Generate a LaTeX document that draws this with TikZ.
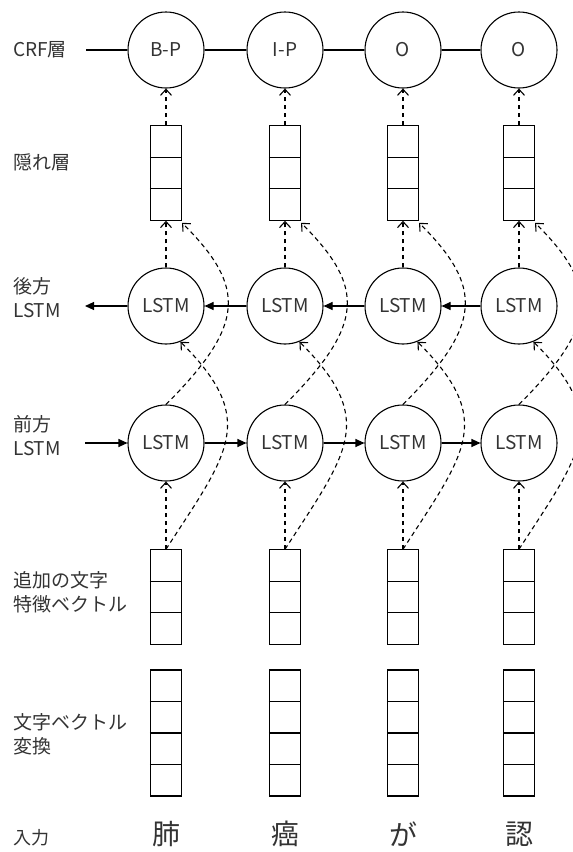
\documentclass[tikz,border=0pt]{standalone}
\usepackage{fontspec}
\setmainfont{Noto Sans CJK JP}
\usetikzlibrary{arrows.meta,calc}
\begin{document}
\begin{tikzpicture}[x=1pt,y=-1pt,
  txt/.style={text=black!80, font=\fontsize{19}{24}\selectfont},
  lw/.style={line width=1.1pt},
  circ/.style={circle, draw, lw, minimum size=76pt, inner sep=0pt, txt},
  vbox/.style={draw, lw, minimum width=31pt, inner sep=0pt},
  lab/.style={txt, anchor=west, align=left, inner sep=0pt},
  solidarr/.style={lw, -{Triangle[length=9pt,width=8pt]}},
  dasharr/.style={lw, dash pattern=on 4.5pt off 3.5pt, -{Straight Barb[length=6pt,width=11pt]}},
  inchar/.style={text=black!80, font=\fontsize{28}{32}\selectfont, inner sep=0pt}
]
\useasboundingbox (0,0) rectangle (573,852);
\clip (0,0) rectangle (573,852);

% row labels
\node[lab] (lcrf) at (13,50) {CRF層};
\node[lab] (lhid) at (13,162) {隠れ層};
\node[lab] (lbw) at (13,298) {後方\\LSTM};
\node[lab] (lfw) at (13,436) {前方\\LSTM};
\node[lab] (lfeat) at (13,592) {追加の文字\\特徴ベクトル};
\node[lab] (lvec) at (13,734) {文字ベクトル\\変換};
\node[lab, font=\fontsize{18}{22}\selectfont] (lin) at (13,838) {入力};

\coordinate (crfstart) at (86,50);
\coordinate (bwend) at (85,306);
\coordinate (fwstart) at (85,443);

\foreach \i/\x/\crf/\ch in {1/166/B-P/肺, 2/285/I-P/癌, 3/403/O/が, 4/519/O/認}{
  \node[circ] (c\i) at (\x,50) {\crf};
  \node[vbox, minimum height=94.5pt] (h\i) at (\x,173) {};
  \node[circ] (b\i) at (\x,306) {LSTM};
  \node[circ] (f\i) at (\x,443) {LSTM};
  \node[vbox, minimum height=94.5pt] (e\i) at (\x,597) {};
  \node[vbox, minimum height=126pt] (v\i) at (\x,733) {};
  \node[inchar] (in\i) at (\x,834) {\ch};
  \foreach \k in {1,2}{
    \draw[lw] ($(h\i.north west)!\k/3!(h\i.south west)$) -- ($(h\i.north east)!\k/3!(h\i.south east)$);
    \draw[lw] ($(e\i.north west)!\k/3!(e\i.south west)$) -- ($(e\i.north east)!\k/3!(e\i.south east)$);
  }
  \foreach \k in {1,2,3}{
    \draw[lw] ($(v\i.north west)!\k/4!(v\i.south west)$) -- ($(v\i.north east)!\k/4!(v\i.south east)$);
  }
  % vertical dashed arrows
  \draw[dasharr] (h\i.north) -- (c\i.south);
  \draw[dasharr] (b\i.north) -- (h\i.south);
  \draw[dasharr] (e\i.north) -- (f\i.south);
  % curved dashed arrows
  \coordinate (hc\i) at ($(h\i.south east)+(0,2)$);
  \draw[dasharr] (f\i.north) .. controls +(80,-80) and +(64,64) .. (hc\i);
  \draw[dasharr] (e\i.north) .. controls +(63,-97) and +(78,78) .. (b\i.-68);
}

% CRF chain
\draw[lw] (crfstart) -- (c1.west);
\draw[lw] (c1) -- (c2);
\draw[lw] (c2) -- (c3);
\draw[lw] (c3) -- (c4);

% backward LSTM chain
\draw[solidarr] (b1.west) -- (bwend);
\draw[solidarr] (b2) -- (b1);
\draw[solidarr] (b3) -- (b2);
\draw[solidarr] (b4) -- (b3);

% forward LSTM chain
\draw[solidarr] (fwstart) -- (f1.west);
\draw[solidarr] (f1) -- (f2);
\draw[solidarr] (f2) -- (f3);
\draw[solidarr] (f3) -- (f4);
\end{tikzpicture}
\end{document}
